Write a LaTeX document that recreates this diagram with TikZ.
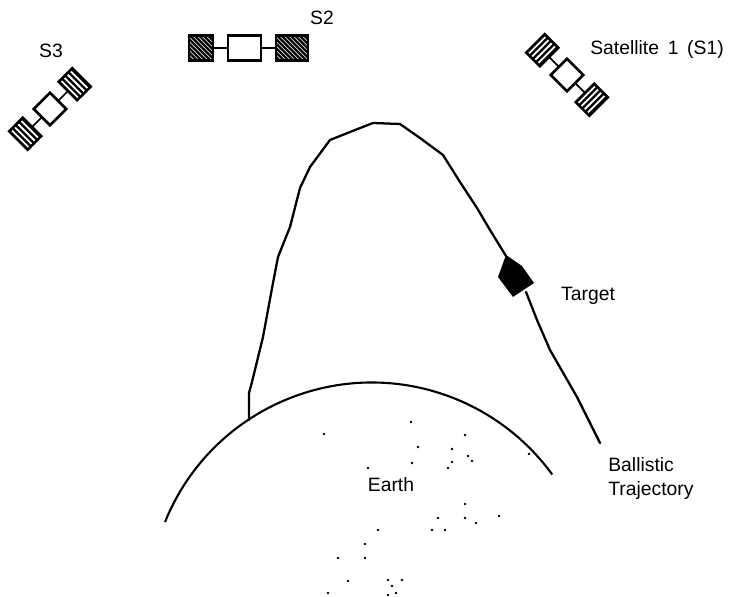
\documentclass[tikz,border=0pt]{standalone}
\usepackage{fontspec}
\setmainfont{Liberation Sans}
\usetikzlibrary{positioning}

% one striped solar panel, from x=#1 to x=#2 in the satellite's own frame
\newcommand\satpanel[2]{%
  \begin{scope}
    \clip (#1,-\sathigh/2) rectangle (#2,\sathigh/2);
    \foreach \s in {-27,-22.5,...,45}
      \draw[line width=1.3pt] ({#1+\s-\satslant*\sathigh/2},-\sathigh/2) -- ({#1+\s+\satslant*\sathigh/2},\sathigh/2);
  \end{scope}
  \draw[sat line] (#1,-\sathigh/2) rectangle (#2,\sathigh/2);
}

\tikzset{
  lbl/.style={font=\fontsize{11}{14}\selectfont, inner sep=0pt},
  sat line/.style={line width=1.5pt},
  traj/.style={line width=1.3pt, line join=round, line cap=round},
  earth/.style={line width=1.2pt},
  sat left/.store in=\satleft, sat right/.store in=\satright,
  sat link/.store in=\satlink, sat body/.store in=\satbody,
  sat high/.store in=\sathigh, sat body high/.store in=\satbodyhigh,
  sat slant/.store in=\satslant,
  sat left=19, sat right=19, sat link=14, sat body=23,
  sat high=26, sat body high=23, sat slant=0,
  satellite/.pic={
    \satpanel{-\satbody/2-\satlink-\satleft}{-\satbody/2-\satlink}
    \satpanel{\satbody/2+\satlink}{\satbody/2+\satlink+\satright}
    \draw[line width=1pt] (-\satbody/2-\satlink,0) -- (-\satbody/2,0)
                          (\satbody/2,0) -- (\satbody/2+\satlink,0);
    \draw[sat line, fill=white] (-\satbody/2,-\satbodyhigh/2) rectangle (\satbody/2,\satbodyhigh/2);
  }
}

\begin{document}
\begin{tikzpicture}[x=0.02cm, y=-0.02cm]
  \useasboundingbox (0,0) rectangle (731,597);

  % satellites
  \pic[rotate=45] at (50,109) {satellite};
  \pic[sat left=24, sat right=32, sat body=33, sat link=15,
       sat high=25, sat body high=25, sat slant=1] at (244.5,48) {satellite};
  \pic[rotate=-45] at (567,75) {satellite};

  \node[lbl] (s3) at (51,51) {S3};
  \node[lbl] (s2) at (322,18) {S2};
  \node[lbl, anchor=west] (s1) at (590,50)
    {Satellite\hspace{0.45em}1\hspace{0.45em}(S1)};

  % earth surface and specks
  \coordinate (launch) at (249,420);
  \draw[earth] (165,522) arc[start angle=-158, end angle=-36, radius=223];
  \foreach \p in {(324,434),(411,422),(465,435),(418,447),(452,449),(468,456),
                  (472,461),(412,463),(452,462),(448,468),(368,468),(465,504),
                  (438,518),(465,518),(476,523),(499,516),(378,530),(432,530),
                  (445,530),(365,544),(338,558),(365,558),(348,581),(388,580),
                  (402,580),(392,586),(328,593),(388,595),(396,593),(529,454)}
    \fill \p circle (0.8pt);
  \node[lbl] (earthlbl) at (391,485) {Earth};

  % ballistic path
  \draw[traj] (launch) -- (249,393) -- (252,382) -- (263,337) -- (273,283)
    -- (278,257) -- (290,227) -- (300,188) -- (310,167) -- (330,140)
    -- (350,132) -- (373,123) -- (400,124) -- (420,138) -- (443,155)
    -- (460,182) -- (477,208) -- (490,230) -- (506,256);
  \draw[traj] (526,292) -- (537,320) -- (550,350) -- (577,397) -- (600,443);
  \coordinate (impact) at (600,443);

  % target
  \fill (506,255) -- (522,266) -- (534,283) -- (513,297) -- (498,277) -- cycle;
  \node[lbl] (target) at (588,296) {Target};
  \node[lbl, anchor=north west, align=left] (trajlbl) at (608,457)
    {Ballistic\\Trajectory};
\end{tikzpicture}
\end{document}
